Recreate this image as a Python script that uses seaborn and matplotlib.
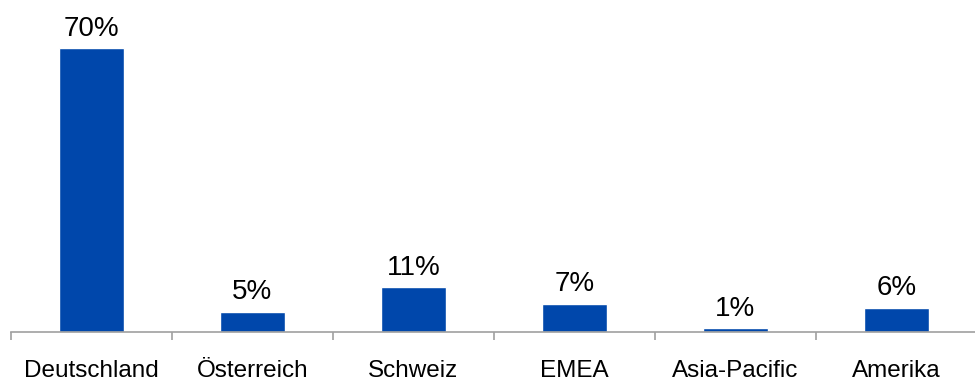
import matplotlib
matplotlib.use("Agg")
import matplotlib.pyplot as plt
import seaborn as sns
import pandas as pd
from matplotlib.ticker import FixedLocator

categories = ["Deutschland", "Österreich", "Schweiz", "EMEA", "Asia-Pacific", "Amerika"]
values = [70, 5, 11, 7, 1, 6]
labels = ["70%", "5%", "11%", "7%", "1%", "6%"]

df = pd.DataFrame({"region": categories, "share": values})

sns.set_theme(style="white")
plt.rcParams["font.family"] = ["Liberation Sans", "DejaVu Sans"]

fig = plt.figure(figsize=(9.75, 3.87), dpi=100)
ax = fig.add_axes([11 / 975, 55 / 387, 964 / 975, 332 / 387])

sns.barplot(data=df, x="region", y="share", color="#0047AB", saturation=1,
            width=0.4, ax=ax)

ax.set_xlim(-0.5, 5.488)
ax.set_ylim(0, 81.8)

for i, (v, lab) in enumerate(zip(values, labels)):
    ax.annotate(lab, (i, v), xytext=(0, 4.5), textcoords="offset points",
                ha="center", va="bottom", fontsize=20, color="black")

for s in ["top", "right", "left"]:
    ax.spines[s].set_visible(False)
ax.spines["bottom"].set_color("#A0A0A0")
ax.spines["bottom"].set_linewidth(1.2)

ax.set_yticks([])
ax.set_xlabel("")
ax.set_ylabel("")
ax.tick_params(axis="x", which="major", length=0, pad=20, labelsize=17.5, labelcolor="black")
ax.xaxis.set_minor_locator(FixedLocator([i - 0.5 for i in range(len(categories) + 1)]))
ax.tick_params(axis="x", which="minor", length=6, width=1.2, color="#A0A0A0", bottom=True)

fig.savefig("out.png", dpi=100)
